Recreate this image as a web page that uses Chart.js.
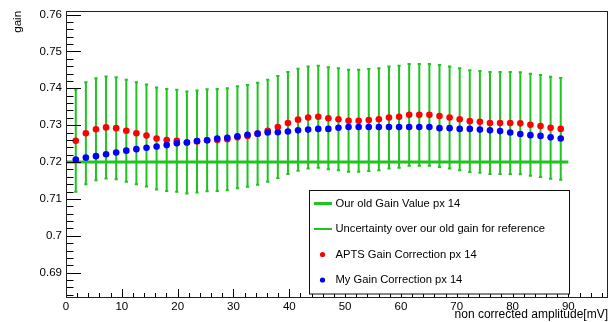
<!DOCTYPE html>
<html>
<head>
<meta charset="utf-8">
<script src="https://cdn.jsdelivr.net/npm/chart.js@4.4.1/dist/chart.umd.min.js"></script>
<style>
  html, body { margin: 0; padding: 0; background: #fff; }
  #chart { display: block; }
</style>
</head>
<body>
<canvas id="chart" width="612" height="322"></canvas>
<script>
// amplitude (mV) of each point
const amplitudes = [1.75, 3.56, 5.37, 7.18, 8.99, 10.8, 12.61, 14.42, 16.23, 18.04,
  19.85, 21.66, 23.47, 25.28, 27.09, 28.9, 30.71, 32.52, 34.33, 36.14,
  37.95, 39.76, 41.57, 43.38, 45.19, 47, 48.81, 50.62, 52.43, 54.24,
  56.05, 57.86, 59.67, 61.48, 63.29, 65.1, 66.91, 68.72, 70.53, 72.34,
  74.15, 75.96, 77.77, 79.58, 81.39, 83.2, 85.01, 86.82, 88.63];

const aptsGain = [0.7258, 0.7278, 0.7289, 0.7294, 0.7292, 0.7285, 0.7278, 0.7272, 0.7264, 0.7260,
  0.7258, 0.7253, 0.7256, 0.7259, 0.7260, 0.7262, 0.7267, 0.7271, 0.7277, 0.7285,
  0.7295, 0.7306, 0.7315, 0.7321, 0.7323, 0.7319, 0.7316, 0.7312, 0.7312, 0.7314,
  0.7316, 0.7321, 0.7323, 0.7328, 0.7328, 0.7328, 0.7325, 0.7321, 0.7316, 0.7311,
  0.7309, 0.7306, 0.7306, 0.7306, 0.7305, 0.7301, 0.7298, 0.7293, 0.7290];

const myGain = [0.7207, 0.7212, 0.7216, 0.7221, 0.7226, 0.7231, 0.7235, 0.7239, 0.7242, 0.7246,
  0.7251, 0.7253, 0.7257, 0.7259, 0.7264, 0.7266, 0.7270, 0.7274, 0.7277, 0.7280,
  0.7281, 0.7283, 0.7286, 0.7288, 0.7290, 0.7290, 0.7293, 0.7295, 0.7295, 0.7295,
  0.7295, 0.7295, 0.7295, 0.7295, 0.7295, 0.7295, 0.7292, 0.7292, 0.7290, 0.7290,
  0.7288, 0.7286, 0.7284, 0.7280, 0.7276, 0.7273, 0.7271, 0.7267, 0.7264];

// uncertainty drawn around the APTS points
const gainUncertainty = [0.0141, 0.0141, 0.0141, 0.0141, 0.0141, 0.0141, 0.0141, 0.0141, 0.0141, 0.0141,
  0.0141, 0.0141, 0.0141, 0.0141, 0.0141, 0.0141, 0.0141, 0.0141, 0.0141, 0.0141,
  0.0141, 0.0141, 0.0141, 0.0141, 0.0141, 0.0141, 0.0141, 0.0141, 0.0141, 0.0141,
  0.0141, 0.0141, 0.0141, 0.0141, 0.0141, 0.0141, 0.0141, 0.0141, 0.0141, 0.0141,
  0.0141, 0.0141, 0.0141, 0.0141, 0.0141, 0.0141, 0.0141, 0.0141, 0.0141];

const oldGainValue = 0.72;
const oldGainRange = [0, 90];

const legendLabels = [
  'Our old Gain Value px 14',
  'Uncertainty over our old gain for reference',
  'APTS Gain Correction px 14',
  'My Gain Correction px 14'
];

const GREEN = '#1fc41f';
const RED = '#ff0000';
const BLUE = '#0000ff';
const FONT = "'Liberation Sans', Arial, sans-serif";

const toPoints = (ys) => amplitudes.map((x, i) => ({ x: x, y: ys[i] }));

// vertical error bars around APTS points, drawn under the markers
const errorBars = {
  id: 'errorBars',
  beforeDatasetsDraw(chart) {
    const { ctx, scales: { x, y } } = chart;
    ctx.save();
    ctx.strokeStyle = GREEN;
    ctx.lineWidth = 2;
    amplitudes.forEach((a, i) => {
      const px = x.getPixelForValue(a);
      const top = y.getPixelForValue(aptsGain[i] + gainUncertainty[i]);
      const bot = y.getPixelForValue(aptsGain[i] - gainUncertainty[i]);
      ctx.beginPath();
      ctx.moveTo(px, top);
      ctx.lineTo(px, bot);
      ctx.moveTo(px - 1.6, top + 1);
      ctx.lineTo(px + 1.6, top + 1);
      ctx.moveTo(px - 1.6, bot - 1);
      ctx.lineTo(px + 1.6, bot - 1);
      ctx.stroke();
    });
    ctx.restore();
  }
};

// ROOT style frame with inward ticks
const frameTicks = {
  id: 'frameTicks',
  afterDraw(chart) {
    const { ctx, chartArea: ca, scales: { x, y } } = chart;
    ctx.save();
    ctx.strokeStyle = '#000';
    ctx.lineWidth = 1;
    ctx.beginPath();
    for (let v = 0; v <= x.max + 1e-9; v += 2) {
      const px = Math.round(x.getPixelForValue(v)) + 0.5;
      const len = (Math.round(v) % 10 === 0) ? 8 : 4;
      ctx.moveTo(px, ca.bottom);
      ctx.lineTo(px, ca.bottom - len);
    }
    const start = Math.ceil(y.min / 0.002 - 1e-6);
    for (let k = start; k * 0.002 <= y.max + 1e-9; k++) {
      const py = Math.round(y.getPixelForValue(k * 0.002)) + 0.5;
      const len = (k % 5 === 0) ? 15 : 7.5;
      ctx.moveTo(ca.left, py);
      ctx.lineTo(ca.left + len, py);
    }
    ctx.stroke();
    ctx.strokeStyle = '#222';
    ctx.strokeRect(Math.round(ca.left) + 0.5, Math.round(ca.top) + 0.5,
      Math.round(ca.right - ca.left) - 1, Math.round(ca.bottom - ca.top));
    ctx.restore();
  }
};

// legend box inside the frame, bottom right
const boxLegend = {
  id: 'boxLegend',
  afterDraw(chart) {
    const { ctx, chartArea: ca } = chart;
    const bx = 309.5, by = 190.5, bw = 260, bh = 103.5;
    ctx.save();
    ctx.fillStyle = '#fff';
    ctx.fillRect(bx, by, bw, bh);
    ctx.strokeStyle = '#111';
    ctx.lineWidth = 1;
    ctx.strokeRect(bx, by, bw, bh);
    const rows = [203.5, 229, 254.5, 280];
    ctx.font = '11.2px ' + FONT;
    ctx.textBaseline = 'middle';
    ctx.fillStyle = '#000';
    rows.forEach((ry, i) => {
      if (i < 2) {
        ctx.strokeStyle = GREEN;
        ctx.lineWidth = i === 0 ? 3 : 2;
        ctx.beginPath();
        ctx.moveTo(314, ry);
        ctx.lineTo(332, ry);
        ctx.stroke();
      } else {
        ctx.fillStyle = i === 2 ? RED : BLUE;
        ctx.beginPath();
        ctx.arc(322.5, ry, 2.6, 0, Math.PI * 2);
        ctx.fill();
      }
      ctx.fillStyle = '#000';
      ctx.fillText(legendLabels[i], 335.5, ry);
    });
    ctx.restore();
  }
};

new Chart(document.getElementById('chart'), {
  type: 'scatter',
  data: {
    datasets: [
      {
        label: legendLabels[0],
        type: 'line',
        data: oldGainRange.map(a => ({ x: a, y: oldGainValue })),
        borderColor: GREEN,
        borderWidth: 3,
        pointRadius: 0,
        order: 3
      },
      {
        label: legendLabels[2],
        data: toPoints(aptsGain),
        backgroundColor: RED,
        borderWidth: 0,
        pointRadius: 3.3,
        order: 2
      },
      {
        label: legendLabels[3],
        data: toPoints(myGain),
        backgroundColor: BLUE,
        borderWidth: 0,
        pointRadius: 3.3,
        order: 1
      }
    ]
  },
  options: {
    responsive: false,
    animation: false,
    devicePixelRatio: 1,
    layout: { padding: { top: 7, right: 2, left: 0, bottom: 0 } },
    plugins: {
      legend: { display: false },
      tooltip: { enabled: false }
    },
    scales: {
      x: {
        type: 'linear',
        min: 0,
        max: 97.1,
        grid: { display: false, drawTicks: false },
        border: { display: false },
        ticks: {
          stepSize: 10,
          includeBounds: false,
          maxRotation: 0,
          padding: 3,
          color: '#000',
          font: { family: FONT, size: 11.5 }
        },
        title: {
          display: true,
          text: 'non corrected amplitude[mV]',
          align: 'end',
          color: '#000',
          padding: 0,
          font: { family: FONT, size: 12 }
        },
        afterFit(scale) { scale.height = 25; }
      },
      y: {
        type: 'linear',
        min: 0.6834,
        max: 0.761,
        grid: { display: false, drawTicks: false },
        border: { display: false },
        ticks: {
          stepSize: 0.01,
          includeBounds: false,
          padding: 4,
          color: '#000',
          font: { family: FONT, size: 11.5 },
          callback: (v) => String(Number(v.toFixed(2)))
        },
        title: {
          display: true,
          text: 'gain',
          align: 'end',
          color: '#000',
          padding: { top: 11, bottom: 0 },
          font: { family: FONT, size: 11.6 }
        },
        afterFit(scale) { scale.width = 66; }
      }
    }
  },
  plugins: [errorBars, frameTicks, boxLegend]
});
</script>
</body>
</html>
